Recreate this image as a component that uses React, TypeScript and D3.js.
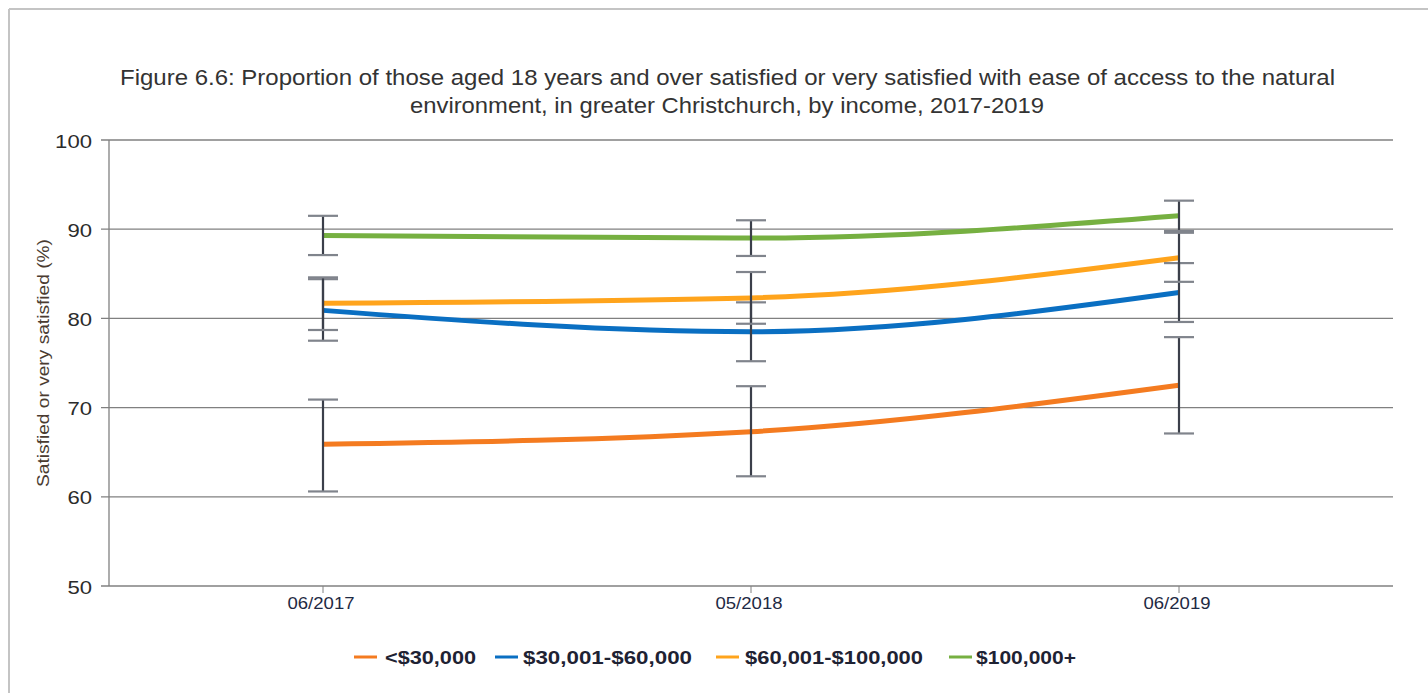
import React from "react";
import * as d3 from "d3";

const periods = ["06/2017", "05/2018", "06/2019"];
const seriesNames = ["<$30,000", "$30,001-$60,000", "$60,001-$100,000", "$100,000+"];
const seriesColors = ["#f47b20", "#0a6fc2", "#ffa41c", "#76b041"];

const under30k = [65.9, 67.3, 72.5];
const under30kLow = [60.6, 62.3, 67.1];
const under30kHigh = [70.9, 72.4, 77.9];

const from30to60k = [80.9, 78.5, 82.9];
const from30to60kLow = [77.5, 75.2, 79.6];
const from30to60kHigh = [84.4, 81.8, 86.2];

const from60to100k = [81.7, 82.3, 86.8];
const from60to100kLow = [78.7, 79.4, 84.1];
const from60to100kHigh = [84.6, 85.2, 89.6];

const over100k = [89.3, 89.0, 91.5];
const over100kLow = [87.1, 87.0, 89.8];
const over100kHigh = [91.5, 91.0, 93.2];

const yTicks = [50, 60, 70, 80, 90, 100];

const titleLines = [
  "Figure 6.6: Proportion of those aged 18 years and over satisfied or very satisfied with ease of access to the natural",
  "environment, in greater Christchurch, by income, 2017-2019",
];
const yAxisTitle = "Satisfied or very satisfied (%)";

const series = [
  { values: under30k, low: under30kLow, high: under30kHigh },
  { values: from30to60k, low: from30to60kLow, high: from30to60kHigh },
  { values: from60to100k, low: from60to100kLow, high: from60to100kHigh },
  { values: over100k, low: over100kLow, high: over100kHigh },
];

// legend layout: swatch start, text start, text width
const legendSwatchX = [354, 495, 716, 949];
const legendTextX = [385, 523, 745, 976];
const legendTextW = [91, 169, 178, 100];

export default function App() {
  const width = 1428;
  const height = 693;
  const left = 109;
  const right = 1393;
  const top = 140;
  const bottom = 586;

  const x = d3.scaleBand<string>().domain(periods).range([left, right]);
  const cx = (p: string) => (x(p) as number) + x.bandwidth() / 2;
  const y = d3.scaleLinear().domain([50, 100]).range([bottom, top]);

  const line = d3
    .line<number>()
    .x((_, i) => cx(periods[i]))
    .y((v) => y(v))
    .curve(d3.curveMonotoneX);

  const font = "'Liberation Sans', Arial, sans-serif";
  const capHalf = 15;

  return (
    <svg
      width={width}
      height={height}
      style={{ position: "absolute", left: 0, top: 0, background: "#fff" }}
      fontFamily={font}
    >
      {/* frame */}
      <line x1={9} y1={9} x2={width} y2={9} stroke="#c4c4c4" strokeWidth={2} />
      <line x1={9} y1={9} x2={9} y2={height} stroke="#c4c4c4" strokeWidth={2} />

      {/* title */}
      <text x={120} y={85} fontSize={22} fill="#333" textLength={1215} lengthAdjust="spacingAndGlyphs">
        {titleLines[0]}
      </text>
      <text x={410} y={113} fontSize={22} fill="#333" textLength={634} lengthAdjust="spacingAndGlyphs">
        {titleLines[1]}
      </text>

      {/* gridlines and y ticks */}
      {yTicks.map((t) => (
        <g key={t}>
          <line x1={left - 8} x2={right} y1={y(t)} y2={y(t)} stroke="#808080" strokeWidth={1.3} />
          <text
            x={92}
            y={y(t) + 7.5}
            textAnchor="end"
            fontSize={18.5}
            fill="#2b2b2b"
            textLength={String(t).length * 12.3}
            lengthAdjust="spacingAndGlyphs"
          >
            {t}
          </text>
        </g>
      ))}
      <line x1={left} x2={left} y1={top} y2={bottom} stroke="#808080" strokeWidth={1.3} />

      {/* x ticks */}
      {periods.map((p) => (
        <g key={p}>
          <line x1={cx(p)} x2={cx(p)} y1={bottom} y2={bottom + 7} stroke="#808080" strokeWidth={1} />
          <text
            x={cx(p) - 2}
            y={609}
            textAnchor="middle"
            fontSize={16}
            fill="#1f2a44"
            textLength={67}
            lengthAdjust="spacingAndGlyphs"
          >
            {p}
          </text>
        </g>
      ))}

      {/* y axis title */}
      <text
        transform={`translate(49,${(top + bottom) / 2}) scale(1.12,1) rotate(-90)`}
        textAnchor="middle"
        fontSize={15.5}
        fill="#4a3b30"
        textLength={248}
        lengthAdjust="spacingAndGlyphs"
      >
        {yAxisTitle}
      </text>

      {/* series lines */}
      {series.map((s, i) => (
        <path
          key={i}
          d={line(s.values) || ""}
          fill="none"
          stroke={seriesColors[i]}
          strokeWidth={5}
        />
      ))}

      {/* error bars */}
      {series.map((s, i) => (
        <g key={i}>
          {periods.map((p, j) => {
            const px = cx(p);
            return (
              <g key={p}>
                <line x1={px} x2={px} y1={y(s.high[j])} y2={y(s.low[j])} stroke="#3b3f4a" strokeWidth={2.2} />
                <line x1={px - capHalf} x2={px + capHalf} y1={y(s.high[j])} y2={y(s.high[j])} stroke="#80848c" strokeWidth={2.2} />
                <line x1={px - capHalf} x2={px + capHalf} y1={y(s.low[j])} y2={y(s.low[j])} stroke="#80848c" strokeWidth={2.2} />
              </g>
            );
          })}
        </g>
      ))}

      {/* legend */}
      {seriesNames.map((n, i) => (
        <g key={n}>
          <line x1={legendSwatchX[i]} x2={legendSwatchX[i] + 23} y1={657} y2={657} stroke={seriesColors[i]} strokeWidth={3} />
          <text
            x={legendTextX[i]}
            y={664}
            fontSize={18}
            fontWeight="bold"
            fill="#1e2233"
            textLength={legendTextW[i]}
            lengthAdjust="spacingAndGlyphs"
          >
            {n}
          </text>
        </g>
      ))}
    </svg>
  );
}
